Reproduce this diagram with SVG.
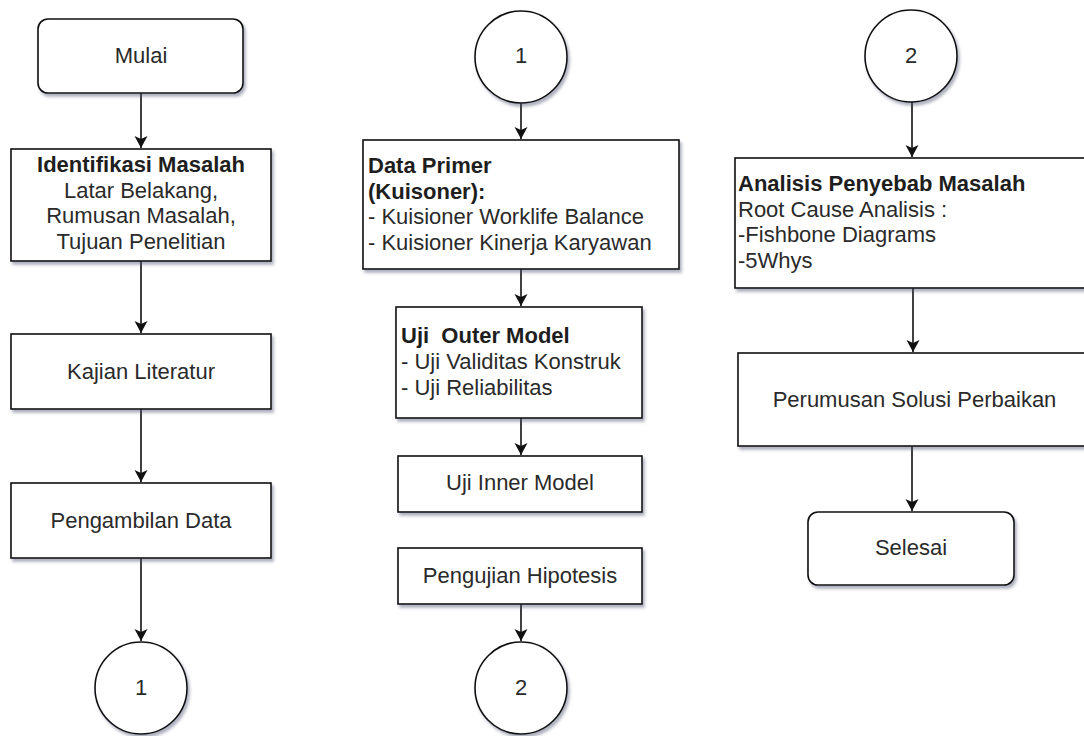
<svg xmlns="http://www.w3.org/2000/svg" width="1084" height="736" viewBox="0 0 1084 736">
<style>
.box{fill:#fff;stroke:#111;stroke-width:1.6;filter:url(#sh)}
.t{font-family:"Liberation Sans",Arial,sans-serif;font-size:22px;fill:#2a2a2a}
.c{text-anchor:middle}
.b{font-weight:bold;fill:#1e1e1e}
.e{fill:none;stroke:#111;stroke-width:1.6;marker-end:url(#ah)}
</style>
<defs>
<filter id="sh" x="-10%" y="-10%" width="130%" height="140%">
<feDropShadow dx="2" dy="3" stdDeviation="1.8" flood-color="#4a5070" flood-opacity="0.45"/>
</filter>
<marker id="ah" markerUnits="userSpaceOnUse" markerWidth="14" markerHeight="14" refX="12" refY="6.5" orient="auto">
<path d="M0,0 L12,6.5 L0,13 L3,6.5 Z" fill="#111"/>
</marker>
</defs>
<rect width="1084" height="736" fill="#fff"/>
<g id="connectors">
<line class="e" x1="141" y1="93" x2="141" y2="148"/>
<line class="e" x1="141" y1="261" x2="141" y2="333"/>
<line class="e" x1="141" y1="409" x2="141" y2="482"/>
<line class="e" x1="141" y1="558" x2="141" y2="641"/>
<line class="e" x1="521" y1="103" x2="521" y2="139"/>
<line class="e" x1="521" y1="269" x2="521" y2="306"/>
<line class="e" x1="521" y1="418" x2="521" y2="455"/>
<line class="e" x1="521" y1="604" x2="521" y2="641"/>
<line class="e" x1="912" y1="102" x2="912" y2="157"/>
<line class="e" x1="913" y1="288" x2="913" y2="352"/>
<line class="e" x1="912" y1="446" x2="912" y2="511"/>
</g>
<g id="mulai">
<rect class="box" x="38" y="19" width="205" height="74" rx="10"/>
<text class="t c" x="141" y="63">Mulai</text>
</g>
<g id="identifikasi">
<rect class="box" x="11" y="149" width="260" height="112"/>
<text class="t c b" x="141" y="172">Identifikasi Masalah</text>
<text class="t c" x="141" y="197.7">Latar Belakang,</text>
<text class="t c" x="141" y="223.4">Rumusan Masalah,</text>
<text class="t c" x="141" y="249">Tujuan Penelitian</text>
</g>
<g id="kajian">
<rect class="box" x="11" y="334" width="260" height="75"/>
<text class="t c" x="141" y="379">Kajian Literatur</text>
</g>
<g id="pengambilan">
<rect class="box" x="11" y="483" width="260" height="75"/>
<text class="t c" x="141" y="528">Pengambilan Data</text>
</g>
<g id="conn1a">
<circle class="box" cx="141" cy="688" r="46"/>
<text class="t c" x="141" y="695">1</text>
</g>
<g id="conn1b">
<circle class="box" cx="521" cy="57" r="46"/>
<text class="t c" x="521" y="63">1</text>
</g>
<g id="dataprimer">
<rect class="box" x="363" y="140" width="316" height="129"/>
<text class="t b" x="368" y="173">Data Primer</text>
<text class="t b" x="368" y="198.5">(Kuisoner):</text>
<text class="t" x="368" y="224">- Kuisioner Worklife Balance</text>
<text class="t" x="368" y="250">- Kuisioner Kinerja Karyawan</text>
</g>
<g id="outer">
<rect class="box" x="396" y="307" width="246" height="111"/>
<text class="t b" x="401" y="343" style="white-space:pre" xml:space="preserve">Uji  Outer Model</text>
<text class="t" x="401" y="369">- Uji Validitas Konstruk</text>
<text class="t" x="401" y="395">- Uji Reliabilitas</text>
</g>
<g id="inner">
<rect class="box" x="398" y="456" width="244" height="56"/>
<text class="t c" x="520" y="490">Uji Inner Model</text>
</g>
<g id="hipotesis">
<rect class="box" x="398" y="548" width="244" height="56"/>
<text class="t c" x="520" y="583">Pengujian Hipotesis</text>
</g>
<g id="conn2a">
<circle class="box" cx="521" cy="688" r="46"/>
<text class="t c" x="521" y="695">2</text>
</g>
<g id="conn2b">
<circle class="box" cx="911" cy="56" r="46"/>
<text class="t c" x="911" y="63">2</text>
</g>
<g id="analisis">
<rect class="box" x="735" y="158" width="355" height="130"/>
<text class="t b" x="738" y="191">Analisis Penyebab Masalah</text>
<text class="t" x="738" y="216.5">Root Cause Analisis :</text>
<text class="t" x="738" y="242">-Fishbone Diagrams</text>
<text class="t" x="738" y="267.5">-5Whys</text>
</g>
<g id="perumusan">
<rect class="box" x="738" y="353" width="352" height="93"/>
<text class="t c" x="914.5" y="407">Perumusan Solusi Perbaikan</text>
</g>
<g id="selesai">
<rect class="box" x="808" y="512" width="206" height="73" rx="10"/>
<text class="t c" x="911" y="555">Selesai</text>
</g>
</svg>
